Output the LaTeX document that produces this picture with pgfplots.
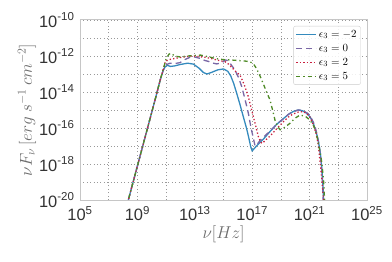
\documentclass[border=0pt]{standalone}
\usepackage{pgfplots}
\pgfplotsset{compat=1.18}
\usepackage{fontspec}
\setmainfont{Liberation Sans}
\definecolor{cblue}{HTML}{348ABD}
\definecolor{cpurple}{HTML}{7A68A6}
\definecolor{cred}{HTML}{C8203F}
\definecolor{cgreen}{HTML}{4E8A26}
\definecolor{txt}{HTML}{333333}
\begin{document}
\begin{tikzpicture}
\begin{axis}[
  name=ax,
  scale only axis,
  width=287bp, height=180bp,
  xmin=5, xmax=25, ymin=-20, ymax=-10,
  xtick={5,9,13,17,21,25},
  xticklabels={10\textsuperscript{5},10\textsuperscript{9},10\textsuperscript{13},10\textsuperscript{17},10\textsuperscript{21},10\textsuperscript{25}},
  minor xtick={7,11,15,19,23},
  ytick={-20,-18,-16,-14,-12,-10},
  yticklabels={10\textsuperscript{-20},10\textsuperscript{-18},10\textsuperscript{-16},10\textsuperscript{-14},10\textsuperscript{-12},10\textsuperscript{-10}},
  minor ytick={-19,-17,-15,-13,-11},
  major tick length=0pt, minor tick length=0pt,
  grid=both,
  major grid style={dash pattern=on 1bp off 2.4bp, gray!80, line width=0.8pt},
  minor grid style={dash pattern=on 1bp off 2.4bp, gray!80, line width=0.8pt},
  axis line style={gray!45, line width=1pt},
  tick label style={font=\fontsize{16.5}{16.5}\selectfont, text=txt},
  xticklabel style={yshift=-3bp},
  yticklabel style={xshift=-2bp},
  xlabel={$\nu [Hz]$},
  ylabel={$\nu F_\nu\, [erg\ s^{-1}\, cm^{-2}]$},
  label style={font=\fontsize{17}{17}\selectfont, text=gray!85!black},
  xlabel style={yshift=2bp},
  ylabel style={yshift=-4bp},
  legend style={at={(0.978,0.967)}, anchor=north east, draw=gray!40, rounded corners=2pt,
    fill=white, fill opacity=0.85, text opacity=1,
    font=\fontsize{11}{13}\selectfont, row sep=1.5bp, inner sep=2bp},
  legend cell align=left,
  legend image code/.code={\draw[#1] (0bp,0bp) -- (20bp,0bp);},
  every axis plot/.append style={line width=1.3pt},
]
\addplot[cblue, solid] coordinates {
(8.2,-20.5) (10.23,-14.44) (10.6,-13.3) (10.8,-12.8) (10.95,-12.58) (11.1,-12.52)
(11.3,-12.58) (11.6,-12.55) (12.0,-12.47) (12.5,-12.4) (12.9,-12.45) (13.3,-12.68)
(13.6,-12.92) (13.85,-13.0) (14.2,-12.9) (14.6,-12.77) (15.0,-12.72) (15.3,-12.85)
(15.5,-13.1) (15.7,-13.5) (15.92,-14.07) (16.15,-14.7) (16.38,-15.37) (16.6,-16.0)
(16.75,-16.5) (16.9,-17.05) (17.0,-17.27) (17.3,-17.0) (17.8,-16.6) (18.24,-16.2)
(18.7,-15.8) (19.2,-15.46) (19.6,-15.2) (19.9,-15.07) (20.2,-15.0) (20.5,-15.04)
(20.8,-15.18) (21.05,-15.4) (21.26,-15.74) (21.45,-16.2) (21.6,-16.67) (21.75,-17.4)
(21.84,-18.15) (21.93,-19.2) (22.0,-20.5)};
\addlegendentry{$\epsilon_3=-2$}
\addplot[cpurple, dash pattern=on 6bp off 4bp] coordinates {
(8.2,-20.5) (10.23,-14.44) (10.6,-13.3) (10.8,-12.8) (10.95,-12.5) (11.27,-12.4)
(11.6,-12.42) (11.97,-12.37) (12.3,-12.2) (12.67,-12.07) (12.9,-12.04) (13.36,-12.13)
(13.7,-12.25) (13.95,-12.3) (14.3,-12.4) (14.53,-12.44) (14.9,-12.37) (15.15,-12.22)
(15.3,-12.25) (15.5,-12.45) (15.8,-12.78) (16.05,-13.2) (16.27,-13.7) (16.45,-14.25)
(16.62,-14.8) (16.75,-15.25) (16.85,-15.7) (16.95,-16.1) (17.06,-16.5) (17.2,-17.0)
(17.35,-16.9) (17.54,-16.7) (18.24,-16.17) (18.7,-15.8) (19.15,-15.5) (19.5,-15.25)
(19.85,-15.1) (20.2,-15.0) (20.45,-15.0) (20.9,-15.2) (21.15,-15.5) (21.34,-15.8)
(21.5,-16.3) (21.66,-16.95) (21.8,-17.8) (21.9,-19.0) (21.97,-20.5)};
\addlegendentry{$\epsilon_3=0$}
\addplot[cred, dash pattern=on 1.3bp off 2.2bp] coordinates {
(8.2,-20.5) (10.23,-14.44) (10.6,-13.3) (10.8,-12.75) (10.95,-12.3) (11.2,-12.2)
(11.65,-12.13) (12.35,-12.04) (12.9,-12.0) (13.71,-12.07) (14.2,-12.15) (14.53,-12.22)
(14.85,-12.28) (15.1,-12.31) (15.35,-12.45) (15.6,-12.65) (15.9,-12.9) (16.15,-13.06)
(16.45,-13.6) (16.73,-14.26) (16.9,-14.8) (17.08,-15.37) (17.25,-15.9) (17.43,-16.48)
(17.6,-16.8) (17.7,-16.85) (17.9,-16.7) (18.24,-16.45) (18.7,-16.05) (19.15,-15.67)
(19.5,-15.4) (19.85,-15.22) (20.2,-15.12) (20.56,-15.09) (20.8,-15.2) (21.03,-15.4)
(21.25,-15.8) (21.45,-16.3) (21.6,-16.9) (21.72,-17.8) (21.85,-18.8) (21.95,-19.8)
(22.02,-20.5)};
\addlegendentry{$\epsilon_3=2$}
\addplot[cgreen, dash pattern=on 4bp off 3bp on 1.3bp off 3bp] coordinates {
(8.2,-20.5) (10.23,-14.44) (10.6,-13.3) (10.85,-12.6) (11.0,-12.15) (11.2,-11.9)
(11.35,-11.85) (11.6,-12.0) (11.95,-12.05) (12.5,-12.0) (13.0,-11.97) (13.4,-11.95)
(14.0,-12.05) (14.5,-12.15) (15.0,-12.2) (15.5,-12.22) (16.0,-12.25) (16.5,-12.28)
(16.85,-12.32) (17.1,-12.45) (17.3,-12.7) (17.54,-13.1) (17.75,-13.5) (18.0,-14.0)
(18.24,-14.44) (18.45,-15.1) (18.6,-15.6) (18.8,-15.95) (18.95,-16.1) (19.2,-16.0)
(19.63,-15.74) (20.0,-15.45) (20.33,-15.28) (20.7,-15.35) (21.03,-15.56) (21.3,-15.9)
(21.5,-16.4) (21.7,-17.2) (21.85,-17.9) (21.98,-19.0) (22.08,-20.5)};
\addlegendentry{$\epsilon_3=5$}
\end{axis}
\pgfresetboundingbox
\useasboundingbox ([shift={(-80bp,-62bp)}]ax.south west) rectangle ([shift={(25bp,20bp)}]ax.north east);
\end{tikzpicture}
\end{document}
